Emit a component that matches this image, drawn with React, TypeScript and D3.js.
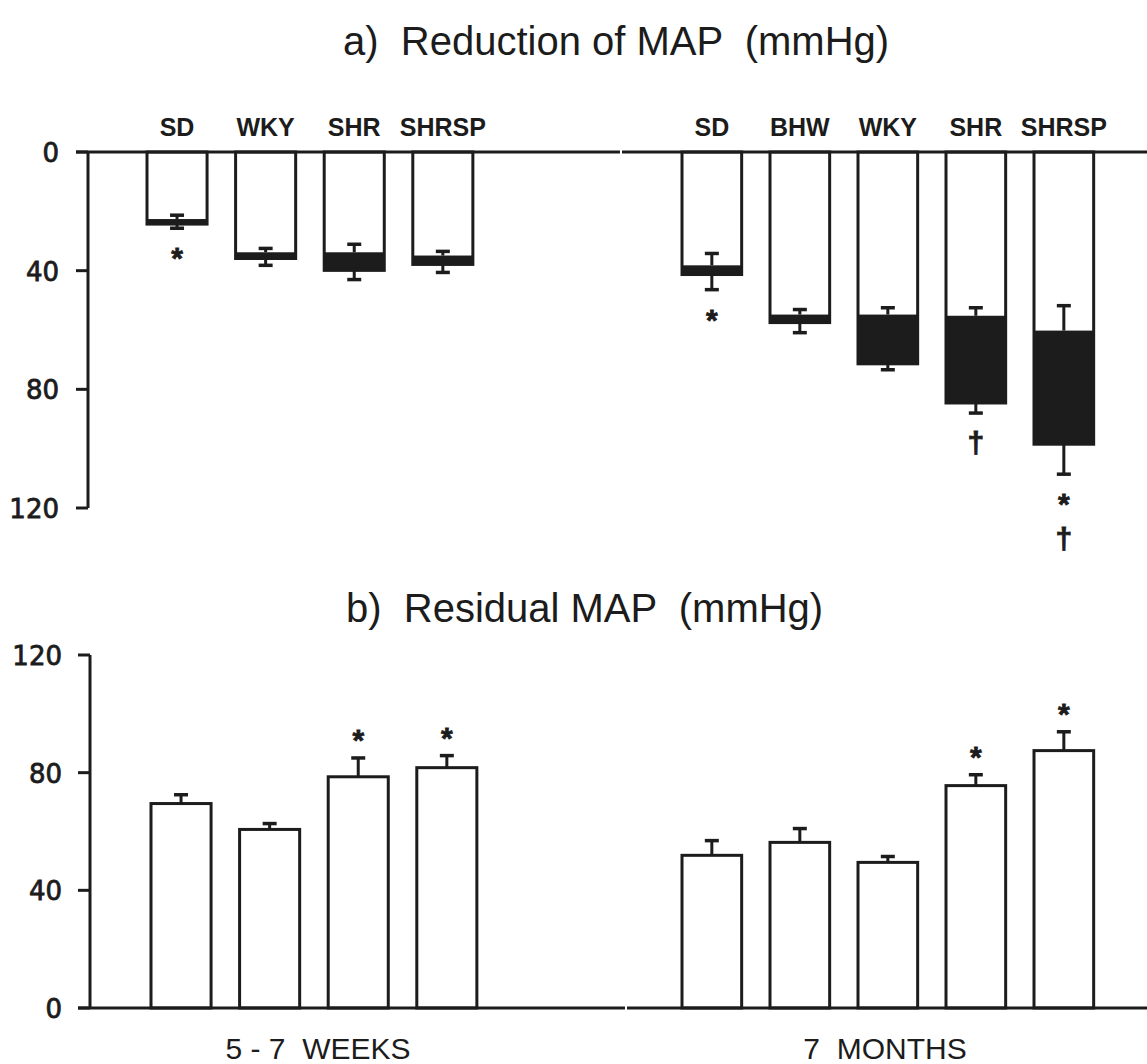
import React from "react";
import * as d3 from "d3";

// ---------- data ----------
const ageGroups = ["5 - 7  WEEKS", "7  MONTHS"];
const weeksStrains = ["SD", "WKY", "SHR", "SHRSP"];
const monthsStrains = ["SD", "BHW", "WKY", "SHR", "SHRSP"];
const yTicks = [0, 40, 80, 120];

// a) Reduction of MAP: open part (first step) and total (open + filled part)
const weeksReductionOpen = [22.6, 33.8, 33.8, 34.9];
const weeksReductionOpenErr = [1.3, 1.3, 2.7, 1.4];
const weeksReductionTotal = [24.3, 35.9, 39.9, 37.9];
const weeksReductionTotalErr = [1.4, 2.3, 3.1, 2.7];
const weeksReductionMarks = [["*"], [], [], []];

const monthsReductionOpen = [38.2, 54.8, 54.8, 55.2, 60.2];
const monthsReductionOpenErr = [4.0, 1.7, 2.3, 2.7, 8.4];
const monthsReductionTotal = [41.3, 57.5, 71.4, 84.6, 98.5];
const monthsReductionTotalErr = [5.1, 3.4, 2.0, 3.4, 10.1];
const monthsReductionMarks = [["*"], [], [], ["†"], ["*", "†"]];

// b) Residual MAP
const weeksResidual = [69.5, 60.7, 78.6, 81.7];
const weeksResidualErr = [3.0, 2.0, 6.4, 4.1];
const weeksResidualMarks = ["", "", "*", "*"];

const monthsResidual = [51.9, 56.3, 49.5, 75.6, 87.5];
const monthsResidualErr = [5.0, 4.7, 2.0, 3.7, 6.4];
const monthsResidualMarks = ["", "", "", "*", "*"];

// ---------- layout ----------
const W = 1147;
const H = 1064;
const SW = 3;
const CAP = 7;
const ink = "#1c1c1c";
const sans = "'Liberation Sans', Arial, sans-serif";
const numFont = "'DejaVu Sans', sans-serif";
const pre = { whiteSpace: "pre" as const };
const MARK_SIZE = 30;

const yA = d3.scaleLinear().domain([0, 120]).range([152, 508]);
const yB = d3.scaleLinear().domain([0, 120]).range([1008, 655]);

const band = (cats: string[], x0: number, step: number) =>
  d3
    .scaleBand<string>()
    .domain(cats)
    .range([x0, x0 + step * (cats.length - 0.322)])
    .paddingInner(0.322)
    .paddingOuter(0);

const xWeeksA = band(weeksStrains, 147, 88.6);
const xMonthsA = band(monthsStrains, 682, 88);
const xWeeksB = band(weeksStrains, 151, 88.6);
const xMonthsB = band(monthsStrains, 682, 88);

function YAxis({ y, x, labelX }: { y: d3.ScaleLinear<number, number>; x: number; labelX: number }) {
  return (
    <g>
      <line x1={x} x2={x} y1={y(0)} y2={y(120)} stroke={ink} strokeWidth={SW} />
      {yTicks.map((t) => (
        <g key={t}>
          <line x1={x - 12} x2={x} y1={y(t)} y2={y(t)} stroke={ink} strokeWidth={SW} />
          <text
            x={labelX}
            y={y(t) + 10}
            textAnchor="end"
            fontFamily={numFont}
            fontSize={26}
            fill={ink}
            stroke={ink}
            strokeWidth={0.8}
          >
            {t}
          </text>
        </g>
      ))}
    </g>
  );
}

function ReductionGroup({
  x,
  cats,
  open,
  openErr,
  total,
  totalErr,
  marks,
}: {
  x: d3.ScaleBand<string>;
  cats: string[];
  open: number[];
  openErr: number[];
  total: number[];
  totalErr: number[];
  marks: string[][];
}) {
  const bw = x.bandwidth();
  return (
    <g>
      {cats.map((c, i) => {
        const x0 = x(c) as number;
        const cx = x0 + bw / 2;
        const yOpen = yA(open[i]);
        const yTot = yA(total[i]);
        const yOpenErr = yA(open[i] - openErr[i]);
        const yTotErr = yA(total[i] + totalErr[i]);
        return (
          <g key={c}>
            <text
              x={cx}
              y={136}
              textAnchor="middle"
              fontFamily={sans}
              fontWeight="bold"
              fontSize={25}
              fill={ink}
            >
              {c}
            </text>
            <rect x={x0} y={yA(0)} width={bw} height={yTot - yA(0)} fill="#fff" />
            <rect x={x0} y={yOpen} width={bw} height={yTot - yOpen} fill={ink} />
            <rect
              x={x0}
              y={yA(0)}
              width={bw}
              height={yTot - yA(0)}
              fill="none"
              stroke={ink}
              strokeWidth={SW}
            />
            <line x1={cx} x2={cx} y1={yOpen} y2={yOpenErr} stroke={ink} strokeWidth={SW} />
            <line x1={cx - CAP} x2={cx + CAP} y1={yOpenErr} y2={yOpenErr} stroke={ink} strokeWidth={SW + 0.5} />
            <line x1={cx} x2={cx} y1={yTot} y2={yTotErr} stroke={ink} strokeWidth={SW} />
            <line x1={cx - CAP} x2={cx + CAP} y1={yTotErr} y2={yTotErr} stroke={ink} strokeWidth={SW + 0.5} />
            {marks[i].map((m, k) => (
              <text
                key={k}
                x={cx}
                y={yTotErr + 40 + k * 35}
                textAnchor="middle"
                fontFamily={sans}
                fontWeight="bold"
                fontSize={MARK_SIZE}
                fill={ink}
                stroke={ink}
                strokeWidth={0.8}
              >
                {m}
              </text>
            ))}
          </g>
        );
      })}
    </g>
  );
}

function ResidualGroup({
  x,
  cats,
  vals,
  errs,
  marks,
}: {
  x: d3.ScaleBand<string>;
  cats: string[];
  vals: number[];
  errs: number[];
  marks: string[];
}) {
  const bw = x.bandwidth();
  return (
    <g>
      {cats.map((c, i) => {
        const x0 = x(c) as number;
        const cx = x0 + bw / 2;
        const yTop = yB(vals[i]);
        const yErr = yB(vals[i] + errs[i]);
        return (
          <g key={c}>
            <rect
              x={x0}
              y={yTop}
              width={bw}
              height={yB(0) - yTop}
              fill="#fff"
              stroke={ink}
              strokeWidth={SW}
            />
            <line x1={cx} x2={cx} y1={yTop} y2={yErr} stroke={ink} strokeWidth={SW} />
            <line x1={cx - CAP} x2={cx + CAP} y1={yErr} y2={yErr} stroke={ink} strokeWidth={SW + 0.5} />
            {marks[i] && (
              <text
                x={cx}
                y={yErr - 8}
                textAnchor="middle"
                fontFamily={sans}
                fontWeight="bold"
                fontSize={MARK_SIZE}
                fill={ink}
                stroke={ink}
                strokeWidth={0.8}
              >
                {marks[i]}
              </text>
            )}
          </g>
        );
      })}
    </g>
  );
}

export default function App() {
  return (
    <svg
      width={W}
      height={H}
      viewBox={`0 0 ${W} ${H}`}
      style={{ position: "absolute", left: 0, top: 0, background: "#fff" }}
    >
      <rect x={0} y={0} width={W} height={H} fill="#fff" />
      {/* titles */}
      <text x={343} y={55} textAnchor="start" fontFamily={sans} fontSize={40} fill={ink} style={pre}>
        {"a)  Reduction of MAP  (mmHg)"}
      </text>
      <text x={346} y={622} textAnchor="start" fontFamily={sans} fontSize={40} fill={ink} style={pre}>
        {"b)  Residual MAP  (mmHg)"}
      </text>

      {/* panel a */}
      <ReductionGroup
        x={xWeeksA}
        cats={weeksStrains}
        open={weeksReductionOpen}
        openErr={weeksReductionOpenErr}
        total={weeksReductionTotal}
        totalErr={weeksReductionTotalErr}
        marks={weeksReductionMarks}
      />
      <ReductionGroup
        x={xMonthsA}
        cats={monthsStrains}
        open={monthsReductionOpen}
        openErr={monthsReductionOpenErr}
        total={monthsReductionTotal}
        totalErr={monthsReductionTotalErr}
        marks={monthsReductionMarks}
      />
      <line x1={76} x2={620} y1={yA(0)} y2={yA(0)} stroke={ink} strokeWidth={SW} />
      <line x1={622} x2={W} y1={yA(0)} y2={yA(0)} stroke={ink} strokeWidth={SW} />
      <YAxis y={yA} x={88} labelX={59} />

      {/* panel b */}
      <ResidualGroup
        x={xWeeksB}
        cats={weeksStrains}
        vals={weeksResidual}
        errs={weeksResidualErr}
        marks={weeksResidualMarks}
      />
      <ResidualGroup
        x={xMonthsB}
        cats={monthsStrains}
        vals={monthsResidual}
        errs={monthsResidualErr}
        marks={monthsResidualMarks}
      />
      <line x1={78} x2={625} y1={yB(0)} y2={yB(0)} stroke={ink} strokeWidth={SW} />
      <line x1={627} x2={W} y1={yB(0)} y2={yB(0)} stroke={ink} strokeWidth={SW} />
      <YAxis y={yB} x={90} labelX={62} />

      {/* age group labels */}
      <text x={318} y={1059} textAnchor="middle" fontFamily={sans} fontSize={30} fill={ink} style={pre}>
        {ageGroups[0]}
      </text>
      <text x={885} y={1059} textAnchor="middle" fontFamily={sans} fontSize={30} fill={ink} style={pre}>
        {ageGroups[1]}
      </text>
    </svg>
  );
}
